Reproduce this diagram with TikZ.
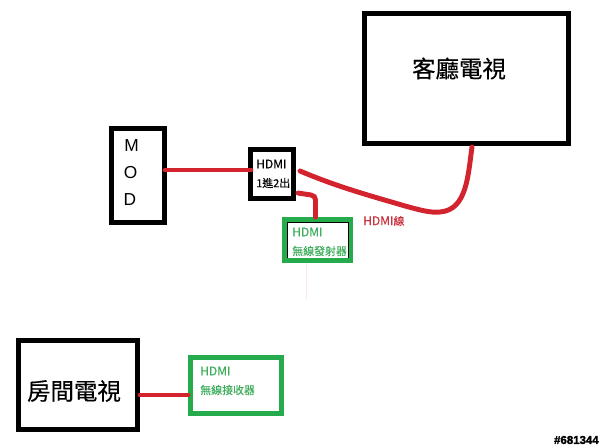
\documentclass[tikz,border=0pt]{standalone}
\usepackage{fontspec}
\setmainfont{Liberation Sans}
\newfontfamily\cjk[FakeBold=0.35]{Noto Sans CJK TC}
\newfontfamily\cjksmall[FakeBold=0.15]{Noto Sans CJK TC}
\newfontfamily\markfont[FakeBold=2]{Liberation Sans Bold}
\newcommand{\hdmiword}{{\fontsize{9}{10}\selectfont HDMI}}
\definecolor{paintred}{HTML}{D2232E}
\definecolor{paintgreen}{HTML}{25AB4B}
\definecolor{labelred}{HTML}{C9323E}
\definecolor{labelgreen}{HTML}{3EAE5C}
\tikzset{
  x=0.75pt,y=-0.75pt,
  blackbox/.style={draw=black,line width=3.75pt,fill=white,inner sep=0pt,outer sep=0pt},
  greenbox/.style={draw=paintgreen,line width=3.6pt,fill=white,inner sep=0pt,outer sep=0pt},
  cable/.style={draw=paintred,line width=3.7pt,line cap=round,line join=round},
  tvtext/.style={font=\cjk\fontsize{17.6}{20}\selectfont,text=black,inner sep=0pt},
  smalltext/.style={font=\cjksmall\fontsize{8.2}{10}\selectfont,inner sep=0pt,anchor=west},
  modtext/.style={font=\fontsize{13}{15}\selectfont,inner sep=0pt,text=black},
}
\begin{document}
\begin{tikzpicture}
\useasboundingbox (0,0) rectangle (605,448);
\fill[white] (0,0) rectangle (605,448);
% faint trace under the transmitter
\draw[paintred!10,line width=0.5pt] (306,263) -- (306,300);
% boxes
\node[blackbox,minimum width=204pt*0.75,minimum height=130pt*0.75,anchor=north west] (livingtv) at (364.5,13.5) {};
\node[blackbox,minimum width=53pt*0.75,minimum height=94pt*0.75,anchor=north west] (mod) at (111.5,128.5) {};
\node[blackbox,minimum width=43.5pt*0.75,minimum height=49.5pt*0.75,anchor=north west] (splitter) at (250.25,149.25) {};
\node[greenbox,minimum width=66pt*0.75,minimum height=41pt*0.75,anchor=north west] (sender) at (284.5,219.5) {};
\node[greenbox,minimum width=91pt*0.75,minimum height=56pt*0.75,anchor=north west] (receiver) at (190.5,357.5) {};
\node[blackbox,minimum width=119pt*0.75,minimum height=89pt*0.75,anchor=north west] (bedroomtv) at (18.5,340.5) {};
% thin inner edge of the transmitter box
\draw[black,line width=0.5pt] (287.5,258) -- (287.5,222.5) -- (348.5,222.5) -- (348.5,258);
% named connector ends
\coordinate (splitA) at (300,171);
\coordinate (splitB) at (298,193);
\coordinate (livingin) at (472,147);
\coordinate (modout) at (165,170);
\coordinate (splitin) at (251,170);
\coordinate (bedroomout) at (140,395);
\coordinate (receiverin) at (188,395);
\coordinate (senderin) at (315.5,217);
% cables
\draw[cable] (modout) -- (splitin);
\draw[cable] (bedroomout) -- (receiverin);
\draw[cable] (splitB) -- (311,195) .. controls (314,195.5) and (315.5,197) .. (315.5,200) -- (senderin);
\draw[cable] (splitA) .. controls (340,188) and (375,197) .. (405,206) .. controls (420,210) and (430,213) .. (440,212) .. controls (467,210) and (468,175) .. (livingin);
% labels
\node[tvtext] (livinglabel) at (459,68.5) {客廳電視};
\node[tvtext] (bedroomlabel) at (74,391) {房間電視};
\node[modtext] (modm) at (131.5,146) {M};
\node[modtext] (modo) at (130.5,173) {O};
\node[modtext] (modd) at (130,200) {D};
\node[smalltext,text=black] (split1) at (256,164) {\hdmiword};
\node[smalltext,text=black] (split2) at (256,183) {1進2出};
\node[smalltext,text=labelred] (cablelabel) at (363,221) {\hdmiword 線};
\node[smalltext,text=labelgreen] (send1) at (292,232) {\hdmiword};
\node[smalltext,text=labelgreen] (send2) at (292,251) {無線發射器};
\node[smalltext,text=labelgreen] (recv1) at (200,371) {\hdmiword};
\node[smalltext,text=labelgreen] (recv2) at (200,390) {無線接收器};
\node[anchor=east,inner sep=0pt,text=black] (postid) at (599,440) {\markfont\fontsize{8.6}{10}\selectfont\#681344};
\end{tikzpicture}
\end{document}
